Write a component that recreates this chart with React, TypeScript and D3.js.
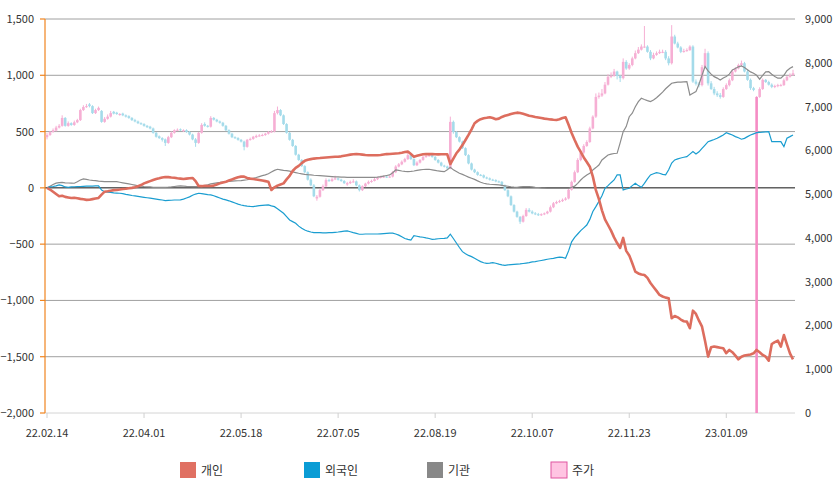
import React from "react";
import * as d3 from "d3";

// x-axis tick labels (every 32 trading days)
const tickLabels = ["22.02.14", "22.04.01", "22.05.18", "22.07.05", "22.08.19", "22.10.07", "22.11.23", "23.01.09"];
const tickIndex = [0, 32, 64, 96, 128, 160, 192, 224];

const leftTicks = [1500, 1000, 500, 0, -500, -1000, -1500, -2000];
const rightTicks = [9000, 8000, 7000, 6000, 5000, 4000, 3000, 2000, 1000, 0];

const seriesNames = ["개인", "외국인", "기관", "주가"];

// 개인
const individual = [
  0, -15, -35, -55, -75, -70, -80, -85, -90, -88,
  -92, -98, -102, -107, -105, -100, -95, -90, -60, -34,
  -30, -25, -20, -19, -15, -10, -8, -4, 0, 5,
  15, 25, 40, 50, 60, 70, 79, 85, 92, 97,
  95, 92, 90, 85, 82, 79, 82, 85, 88, 60,
  17, 15, 18, 16, 17, 20, 30, 40, 48, 55,
  65, 75, 85, 95, 100, 100, 88, 82, 78, 74,
  70, 65, 60, 55, -19, 5, 20, 30, 40, 75,
  106, 150, 177, 195, 220, 240, 250, 255, 260, 263,
  265, 268, 270, 272, 274, 276, 277, 280, 285, 290,
  295, 298, 301, 298, 295, 292, 290, 290, 290, 290,
  292, 296, 300, 301, 303, 305, 307, 312, 318, 322,
  300, 277, 285, 292, 298, 300, 301, 300, 298, 297,
  298, 299, 298, 212, 260, 307, 340, 380, 425, 470,
  520, 574, 595, 610, 618, 622, 627, 620, 609, 615,
  630, 640, 648, 656, 662, 668, 665, 658, 650, 641,
  636, 630, 625, 620, 615, 612, 608, 605, 603, 610,
  620, 627, 560, 488, 425, 366, 320, 270, 230, 188,
  100, -20, -100, -200, -280, -330, -380, -440, -490, -534,
  -445, -560, -600, -670, -744, -760, -770, -774, -800, -845,
  -880, -915, -951, -965, -975, -981, -1158, -1138, -1150, -1170,
  -1185, -1188, -1247, -1091, -1120, -1180, -1233, -1360, -1499, -1416,
  -1410, -1415, -1420, -1425, -1469, -1440, -1460, -1490, -1523, -1500,
  -1490, -1484, -1480, -1470, -1440, -1460, -1484, -1500, -1535, -1387,
  -1370, -1357, -1411, -1307, -1390, -1470, -1523,
];

// 외국인
const foreign = [
  0, 8, 12, 17, 26, 20, 8, 5, 8, 10,
  11, 12, 14, 15, 15, 16, 17, 17, -20, -34,
  -38, -40, -44, -46, -48, -52, -58, -62, -68, -72,
  -76, -80, -84, -88, -92, -96, -100, -104, -108, -114,
  -112, -110, -108, -108, -107, -100, -90, -80, -65, -55,
  -48, -52, -56, -60, -63, -70, -80, -90, -100, -107,
  -115, -125, -135, -145, -152, -158, -162, -165, -167, -162,
  -158, -155, -153, -152, -160, -167, -185, -205, -226, -255,
  -285, -300, -314, -340, -359, -375, -385, -392, -398, -398,
  -398, -400, -400, -398, -398, -395, -392, -388, -385, -383,
  -390, -398, -405, -412, -412, -410, -410, -410, -410, -410,
  -408, -406, -404, -403, -403, -410, -420, -435, -450, -457,
  -463, -425, -430, -435, -439, -445, -450, -457, -455, -452,
  -450, -448, -445, -412, -450, -490, -530, -567, -585, -600,
  -611, -625, -640, -655, -665, -670, -668, -664, -670, -678,
  -684, -688, -685, -682, -680, -678, -676, -672, -668, -664,
  -658, -655, -650, -645, -640, -634, -630, -626, -620, -616,
  -618, -625, -560, -480, -440, -410, -380, -355, -330, -280,
  -210, -167, -120, -70, -4, 20, 46, 70, 115, 115,
  -19, -10, -4, 20, 41, 20, 5, 40, 80, 115,
  125, 135, 130, 120, 115, 160, 220, 248, 258, 265,
  272, 277, 300, 322, 301, 320, 350, 380, 410, 420,
  430, 441, 455, 470, 490, 480, 470, 455, 445, 432,
  440, 455, 470, 480, 490, 492, 495, 497, 499, 410,
  410, 410, 410, 366, 441, 455, 470,
];

// 기관
const institution = [
  0, 15, 30, 42, 46, 48, 45, 43, 42, 41,
  55, 70, 79, 75, 70, 66, 64, 60, 58, 56,
  55, 55, 55, 55, 50, 45, 40, 35, 30, 25,
  18, 15, 12, 10, 8, 5, 5, 5, 5, 5,
  6, 8, 12, 16, 17, 15, 13, 12, 11, 11,
  11, 15, 20, 26, 35, 40, 45, 48, 52, 55,
  58, 60, 62, 63, 64, 68, 72, 78, 85, 92,
  100, 108, 115, 125, 140, 155, 165, 160, 155, 153,
  148, 142, 136, 130, 125, 120, 117, 115, 112, 110,
  108, 106, 104, 102, 100, 98, 97, 96, 95, 94,
  94, 94, 94, 94, 94, 94, 94, 94, 94, 96,
  100, 105, 110, 115, 135, 159, 155, 150, 146, 144,
  146, 150, 155, 160, 163, 165, 165, 160, 155, 150,
  147, 144, 160, 183, 160, 145, 130, 120, 108, 95,
  85, 75, 62, 50, 41, 36, 32, 30, 28, 26,
  22, 18, 14, 10, 7, 5, 8, 11, 11, 11,
  8, 5, 3, 0, -2, -4, -4, -4, -4, -4,
  -4, -4, -4, 5, 15, 40, 70, 95, 115, 130,
  159, 180, 203, 248, 270, 292, 300, 305, 307, 400,
  499, 544, 632, 663, 720, 766, 796, 785, 775, 766,
  780, 800, 825, 850, 880, 905, 929, 935, 940, 940,
  942, 943, 825, 840, 855, 920, 1000, 1077, 1040, 1010,
  988, 975, 958, 975, 990, 1010, 1047, 1060, 1075, 1083,
  1070, 1050, 1030, 1018, 1000, 965, 1000, 1030, 1032, 1010,
  990, 974, 975, 1000, 1040, 1062, 1077,
];

// 주가 (open / high / low / close)
const priceOpen = [
  6300, 6350, 6420, 6450, 6520, 6560, 6740, 6560, 6620, 6580,
  6640, 6690, 6920, 6990, 7050, 7010, 6850, 6920, 6900, 6650,
  6720, 6770, 6880, 6860, 6810, 6840, 6800, 6780, 6740, 6690,
  6660, 6620, 6600, 6560, 6540, 6500, 6400, 6320, 6280, 6250,
  6170, 6300, 6400, 6460, 6480, 6440, 6460, 6420, 6360, 6250,
  6170, 6400, 6600, 6560, 6540, 6740, 6700, 6660, 6630, 6560,
  6460, 6380, 6300, 6280, 6240, 6200, 6080, 6240, 6260, 6300,
  6330, 6340, 6350, 6380, 6420, 6430, 6850, 6920, 6800, 6600,
  6400, 6240, 6100, 5900, 5780, 5640, 5500, 5330, 5200, 4900,
  4940, 5090, 5180, 5320, 5300, 5340, 5360, 5330, 5300, 5220,
  5250, 5280, 5290, 5200, 5090, 5180, 5240, 5280, 5300, 5340,
  5380, 5390, 5400, 5390, 5400, 5500, 5630, 5680, 5740, 5800,
  5890, 5800, 5660, 5720, 5780, 5850, 5870, 5890, 5850, 5780,
  5720, 5650, 5630, 5590, 6650, 6420, 6300, 6200, 6050, 5890,
  5700, 5560, 5500, 5440, 5430, 5380, 5360, 5330, 5320, 5290,
  5280, 5200, 5090, 4950, 4750, 4600, 4480, 4370, 4500, 4640,
  4600, 4560, 4540, 4520, 4540, 4560, 4600, 4700, 4790, 4820,
  4840, 4870, 4900, 5100, 5280, 5500, 5780, 5950, 6100, 6190,
  6500, 6770, 7220, 7250, 7300, 7500, 7680, 7700, 7800, 7700,
  7650, 8020, 7870, 7950, 8100, 8220, 8300, 8370, 8370, 8250,
  8100, 8180, 8220, 8250, 8250, 8100, 7990, 8600, 8440, 8350,
  8250, 8270, 8290, 8370, 7570, 7520, 7490, 7900, 8220, 7530,
  7400, 7300, 7260, 7220, 7400, 7490, 7600, 7800, 7870, 7950,
  7990, 7800, 7610, 7420, 0, 7220, 7400, 7610, 7560, 7500,
  7450, 7470, 7490, 7490, 7600, 7680, 7720,
];

const priceHigh = [
  6400, 6440, 6500, 6560, 6600, 6800, 6760, 6660, 6640, 6680,
  6720, 6950, 7030, 7060, 7080, 7030, 6950, 7000, 6920, 6760,
  6820, 6900, 6900, 6880, 6850, 6860, 6820, 6800, 6760, 6720,
  6680, 6640, 6620, 6580, 6560, 6520, 6420, 6340, 6300, 6270,
  6330, 6430, 6480, 6500, 6500, 6480, 6480, 6440, 6380, 6280,
  6420, 6620, 6640, 6580, 6780, 6760, 6720, 6680, 6650, 6580,
  6480, 6400, 6320, 6300, 6260, 6220, 6260, 6290, 6330, 6360,
  6370, 6380, 6400, 6440, 6460, 6900, 7000, 6940, 6820, 6620,
  6420, 6260, 6120, 5920, 5800, 5660, 5520, 5360, 5230, 4980,
  5120, 5220, 5360, 5350, 5380, 5420, 5380, 5350, 5320, 5280,
  5310, 5340, 5310, 5220, 5200, 5260, 5310, 5330, 5370, 5400,
  5420, 5430, 5420, 5420, 5530, 5660, 5710, 5770, 5830, 5940,
  5910, 5820, 5750, 5800, 5880, 5890, 5920, 5910, 5870, 5800,
  5740, 5670, 5650, 6770, 6680, 6440, 6320, 6220, 6070, 5910,
  5720, 5580, 5520, 5460, 5450, 5400, 5380, 5350, 5340, 5310,
  5300, 5220, 5110, 4970, 4770, 4620, 4500, 4530, 4680, 4680,
  4630, 4590, 4570, 4560, 4580, 4620, 4740, 4820, 4850, 4870,
  4900, 4930, 5130, 5310, 5540, 5820, 6000, 6140, 6230, 6540,
  6800, 7300, 7320, 7400, 7560, 7740, 7780, 7860, 7820, 7720,
  8100, 8060, 7990, 8140, 8280, 8360, 8420, 8840, 8400, 8290,
  8230, 8260, 8300, 8300, 8290, 8150, 8860, 8640, 8480, 8380,
  8320, 8330, 8400, 8400, 7620, 7560, 7950, 8320, 8260, 7580,
  7450, 7350, 7310, 7440, 7530, 7640, 7840, 7900, 7980, 8050,
  8020, 7840, 7640, 7450, 7240, 7440, 7640, 7630, 7590, 7530,
  7500, 7520, 7520, 7640, 7700, 7760, 7840,
];

const priceLow = [
  6250, 6330, 6400, 6430, 6500, 6540, 6540, 6540, 6560, 6560,
  6620, 6670, 6900, 6970, 6980, 6830, 6830, 6900, 6630, 6630,
  6700, 6750, 6820, 6810, 6790, 6780, 6750, 6720, 6670, 6640,
  6600, 6580, 6540, 6510, 6480, 6380, 6290, 6260, 6200, 6100,
  6150, 6280, 6380, 6440, 6440, 6420, 6400, 6340, 6230, 6080,
  6150, 6380, 6540, 6520, 6520, 6680, 6640, 6610, 6540, 6440,
  6360, 6280, 6260, 6220, 6180, 6000, 6060, 6220, 6240, 6280,
  6310, 6320, 6330, 6360, 6400, 6410, 6820, 6780, 6580, 6380,
  6220, 6080, 5880, 5760, 5620, 5480, 5310, 5180, 4930, 4850,
  4920, 5070, 5160, 5280, 5280, 5320, 5310, 5280, 5230, 5190,
  5230, 5260, 5180, 5060, 5070, 5160, 5220, 5260, 5290, 5320,
  5360, 5370, 5370, 5370, 5380, 5480, 5610, 5660, 5720, 5780,
  5780, 5640, 5640, 5700, 5760, 5830, 5850, 5830, 5760, 5700,
  5630, 5610, 5570, 5570, 6380, 6280, 6180, 6030, 5870, 5680,
  5540, 5480, 5420, 5410, 5360, 5340, 5310, 5300, 5270, 5260,
  5180, 5070, 4930, 4730, 4580, 4460, 4320, 4350, 4480, 4580,
  4540, 4520, 4500, 4500, 4520, 4540, 4580, 4680, 4770, 4800,
  4820, 4850, 4880, 5080, 5260, 5480, 5750, 5920, 6080, 6170,
  6480, 6740, 7180, 7220, 7280, 7480, 7650, 7680, 7620, 7560,
  7620, 7840, 7840, 7920, 8080, 8200, 8280, 8340, 8230, 8060,
  8080, 8160, 8200, 8220, 8060, 7940, 7960, 8420, 8330, 8220,
  8230, 8250, 8270, 7540, 7480, 7440, 7460, 7880, 7480, 7380,
  7260, 7220, 7180, 7200, 7380, 7460, 7580, 7780, 7850, 7920,
  7780, 7590, 7380, 7350, 0, 7200, 7380, 7540, 7480, 7420,
  7420, 7440, 7460, 7470, 7580, 7660, 7700,
];

const priceClose = [
  6350, 6420, 6460, 6520, 6560, 6740, 6560, 6620, 6580, 6640,
  6690, 6920, 6990, 7010, 7010, 6850, 6920, 6970, 6650, 6720,
  6770, 6850, 6840, 6830, 6830, 6800, 6770, 6740, 6690, 6660,
  6620, 6600, 6560, 6530, 6500, 6400, 6310, 6280, 6240, 6170,
  6300, 6400, 6460, 6470, 6460, 6460, 6420, 6360, 6250, 6170,
  6400, 6580, 6560, 6540, 6740, 6700, 6660, 6630, 6560, 6460,
  6380, 6300, 6280, 6240, 6200, 6080, 6240, 6260, 6310, 6330,
  6340, 6350, 6380, 6420, 6430, 6850, 6920, 6800, 6600, 6400,
  6240, 6100, 5900, 5780, 5640, 5500, 5330, 5200, 4950, 4940,
  5090, 5180, 5320, 5300, 5340, 5360, 5330, 5300, 5250, 5250,
  5280, 5290, 5200, 5090, 5180, 5240, 5280, 5300, 5340, 5380,
  5390, 5400, 5390, 5400, 5500, 5630, 5680, 5740, 5800, 5890,
  5800, 5660, 5720, 5780, 5850, 5870, 5890, 5850, 5780, 5720,
  5650, 5630, 5590, 6650, 6420, 6300, 6200, 6050, 5890, 5700,
  5560, 5500, 5440, 5430, 5380, 5360, 5330, 5320, 5290, 5280,
  5200, 5090, 4950, 4750, 4600, 4480, 4370, 4500, 4640, 4600,
  4560, 4540, 4520, 4540, 4560, 4600, 4700, 4790, 4820, 4840,
  4870, 4900, 5100, 5280, 5500, 5780, 5950, 6100, 6190, 6500,
  6770, 7220, 7250, 7300, 7500, 7680, 7700, 7800, 7700, 7650,
  8020, 7870, 7950, 8100, 8220, 8300, 8370, 8370, 8250, 8100,
  8180, 8220, 8250, 8250, 8100, 7990, 8600, 8440, 8350, 8250,
  8270, 8290, 8370, 7570, 7520, 7490, 7900, 8220, 7530, 7400,
  7300, 7260, 7220, 7400, 7490, 7600, 7800, 7870, 7950, 7990,
  7800, 7610, 7420, 7380, 7220, 7400, 7610, 7560, 7500, 7450,
  7470, 7490, 7490, 7600, 7680, 7720, 7760,
];

const COLORS = {
  individual: "#dd6d5e",
  foreign: "#1a9dd0",
  institution: "#8c8c8c",
  up: "#f6afd4",
  down: "#a4dbea",
};
const legendColors = ["#e07062", "#0a9cd5", "#888888", "#ffc4e2"];

const W = 838;
const H = 492;
const FONT = "'Noto Sans CJK KR', 'Noto Sans', sans-serif";

const App = () => {
  const n = Math.min(individual.length, foreign.length, institution.length, priceClose.length);
  const x = d3.scaleLinear().domain([0, 246]).range([47, 793]);
  const yL = d3.scaleLinear().domain([-2000, 1500]).range([413, 19]);
  const yR = d3.scaleLinear().domain([0, 9000]).range([413, 19]);

  const idx = d3.range(n);
  const lineOf = (arr: number[]) =>
    d3.line<number>().x((i) => x(i)).y((i) => yL(arr[i]))(idx) || "";

  const candleW = 2.6;

  return (
    <div style={{ position: "absolute", left: 0, top: 0 }}>
      <svg width={W} height={H} style={{ display: "block", background: "#fff" }} fontFamily={FONT}>
        {/* gridlines */}
        {leftTicks.map((t) => (
          <line key={"g" + t} x1={45} x2={795} y1={yL(t)} y2={yL(t)}
            stroke={t === 0 ? "#111" : t === -2000 ? "#d4d4d4" : "#a0a0a0"} strokeWidth={1} />
        ))}
        {/* bottom ticks */}
        {tickIndex.map((ti) => (
          <line key={"bt" + ti} x1={x(ti)} x2={x(ti)} y1={413} y2={418} stroke="#d0d0d0" />
        ))}
        {tickLabels.map((lab, k) => (
          <text key={lab} x={x(tickIndex[k])} y={437} fontSize={11} fill="#333" textAnchor="middle">{lab}</text>
        ))}
        {/* left axis */}
        <line x1={45} x2={45} y1={19} y2={413} stroke="#f0841e" strokeWidth={1.2} />
        {leftTicks.map((t) => (
          <g key={"l" + t}>
            <line x1={40} x2={45} y1={yL(t)} y2={yL(t)} stroke="#f0841e" strokeWidth={1.2} />
            <text x={34} y={yL(t) + 4} fontSize={11} fill="#333" textAnchor="end">{d3.format(",")(t)}</text>
          </g>
        ))}
        {/* right axis labels */}
        {rightTicks.map((t) => (
          <text key={"r" + t} x={805} y={yR(t) + 4} fontSize={11} fill="#333">{d3.format(",")(t)}</text>
        ))}

        {/* candles */}
        {idx.map((i) => {
          const o = priceOpen[i], c = priceClose[i];
          const up = c >= o;
          const col = up ? COLORS.up : COLORS.down;
          const top = yR(Math.max(o, c));
          const bot = yR(Math.min(o, c));
          const isGap = o === 0;
          return (
            <g key={"c" + i}>
              <line x1={x(i)} x2={x(i)} y1={yR(priceHigh[i])} y2={yR(priceLow[i])} stroke={col} strokeWidth={1} />
              <rect x={x(i) - candleW / 2} y={top} width={candleW} height={Math.max(1, bot - top)}
                fill={isGap ? "#f58cc4" : col} />
            </g>
          );
        })}

        {/* investor lines */}
        <path d={lineOf(institution)} fill="none" stroke={COLORS.institution} strokeWidth={1.2} />
        <path d={lineOf(foreign)} fill="none" stroke={COLORS.foreign} strokeWidth={1.2} />
        <path d={lineOf(individual)} fill="none" stroke={COLORS.individual} strokeWidth={2.6} strokeLinejoin="round" />

        {/* legend */}
        {seriesNames.map((name, k) => {
          const lx = [180, 304, 427, 551][k];
          return (
            <g key={name}>
              <rect x={lx} y={462} width={16} height={16} fill={legendColors[k]}
                stroke={k === 3 ? "#e0559f" : "none"} strokeWidth={1} />
              <text x={lx + 21} y={475} fontSize={12} fill="#333">{name}</text>
            </g>
          );
        })}
      </svg>
    </div>
  );
};

export default App;
